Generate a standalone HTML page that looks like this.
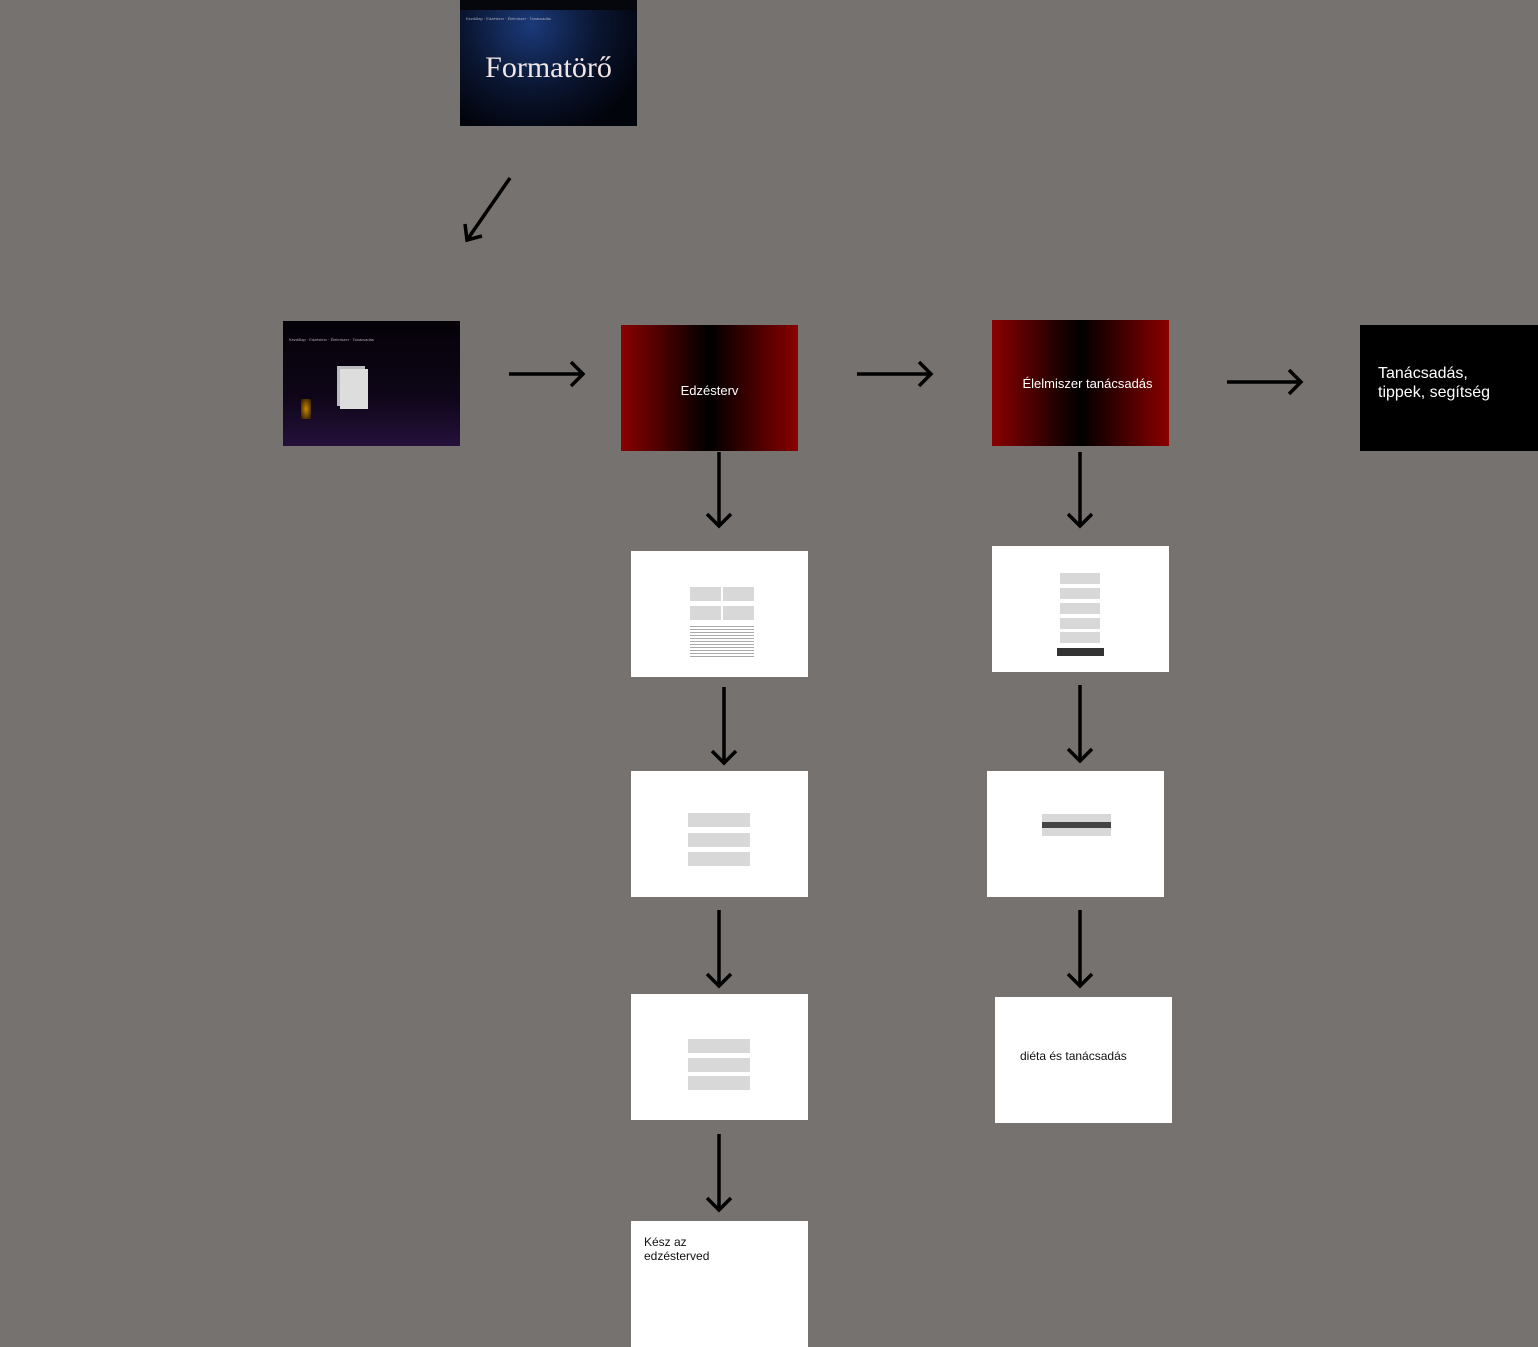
<!DOCTYPE html>
<html><head><meta charset="utf-8"><style>
body{margin:0;width:1538px;height:1347px;background:#767270;position:relative;overflow:hidden;font-family:"Liberation Sans",sans-serif}
.b{position:absolute}
.w{background:#fff}
.red{background:linear-gradient(90deg,#8a0000 0%,#1a0000 40%,#000 50%,#1a0000 60%,#8a0000 100%);color:#fff;font-size:13px;display:flex;align-items:center;justify-content:center}
.t{position:absolute;font-size:5px;color:#666}
.g{position:absolute;background:#d8d8d8}
</style></head><body>
<div class="b" style="left:460px;top:0;width:177px;height:126px;background:radial-gradient(ellipse at 40% 20%,#1b3a7a 0%,#0a1530 45%,#02040c 80%)">
<div style="position:absolute;left:0;top:0;width:177px;height:10px;background:#05070d"></div>
<div class="t" style="left:6px;top:16px;color:#aab;font-size:4px">Kezdőlap · Edzésterv · Élelmiszer · Tanácsadás</div>
<div style="position:absolute;left:0;width:177px;top:51px;text-align:center;font-family:'Liberation Serif',serif;font-size:30px;line-height:34px;color:#f0e6e6">Formatörő</div>
</div>
<div class="b" style="left:283px;top:321px;width:177px;height:125px;background:linear-gradient(180deg,#050208 0%,#0e0618 60%,#24103a 100%)">
<div class="t" style="left:6px;top:16px;color:#aaa;font-size:4px">Kezdőlap · Edzésterv · Élelmiszer · Tanácsadás</div>
<div style="position:absolute;left:57px;top:48px;width:28px;height:40px;background:#ddd;box-shadow:-3px -3px 0 #bbb"></div>
<div style="position:absolute;left:18px;top:78px;width:10px;height:20px;background:radial-gradient(#c80,#210)"></div>
</div>
<div class="b red" style="left:621px;top:325px;width:177px;height:126px;padding-top:4px;box-sizing:border-box">Edzésterv</div>
<div class="b red" style="left:992px;top:320px;width:177px;height:126px;padding-left:14px;box-sizing:border-box">Élelmiszer tanácsadás</div>
<div class="b" style="left:1360px;top:325px;width:178px;height:126px;background:#000;color:#fff;font-size:16px;line-height:19px"><div style="position:absolute;left:18px;top:39px">Tanácsadás,<br>tippek, segítség</div></div>

<div class="b w" style="left:631px;top:551px;width:177px;height:126px">
<div class="g" style="left:59px;top:36px;width:31px;height:14px"></div><div class="g" style="left:92px;top:36px;width:31px;height:14px"></div>
<div class="g" style="left:59px;top:55px;width:31px;height:14px"></div><div class="g" style="left:92px;top:55px;width:31px;height:14px"></div>
<div style="position:absolute;left:59px;top:75px;width:64px;height:33px;background:repeating-linear-gradient(180deg,#aaa 0 1px,#fff 1px 3px)"></div>
</div>
<div class="b w" style="left:631px;top:771px;width:177px;height:126px">
<div class="g" style="left:57px;top:42px;width:62px;height:14px"></div><div class="g" style="left:57px;top:62px;width:62px;height:14px"></div><div class="g" style="left:57px;top:81px;width:62px;height:14px"></div>
</div>
<div class="b w" style="left:631px;top:994px;width:177px;height:126px">
<div class="g" style="left:57px;top:45px;width:62px;height:14px"></div><div class="g" style="left:57px;top:64px;width:62px;height:14px"></div><div class="g" style="left:57px;top:82px;width:62px;height:14px"></div>
</div>
<div class="b w" style="left:631px;top:1221px;width:177px;height:126px;font-size:12px;line-height:14px;color:#111"><div style="position:absolute;left:13px;top:14px">Kész az<br>edzésterved</div></div>

<div class="b w" style="left:992px;top:546px;width:177px;height:126px">
<div class="g" style="left:68px;top:27px;width:40px;height:11px"></div><div class="g" style="left:68px;top:42px;width:40px;height:11px"></div><div class="g" style="left:68px;top:57px;width:40px;height:11px"></div><div class="g" style="left:68px;top:72px;width:40px;height:11px"></div><div class="g" style="left:68px;top:86px;width:40px;height:11px"></div>
<div style="position:absolute;left:65px;top:102px;width:47px;height:8px;background:#333"></div>
</div>
<div class="b w" style="left:987px;top:771px;width:177px;height:126px">
<div class="g" style="left:55px;top:43px;width:69px;height:22px"></div><div style="position:absolute;left:55px;top:51px;width:69px;height:6px;background:#444"></div>
</div>
<div class="b w" style="left:995px;top:997px;width:177px;height:126px;font-size:12px;color:#111"><div style="position:absolute;left:25px;top:52px">diéta és tanácsadás</div></div>

<svg class="b" style="left:0;top:0" width="1538" height="1347" fill="none" stroke="#000" stroke-width="3.5">
<path d="M510 178L467 240M465 224L467 240L482 236"/>
<path d="M509 374H583M571 362L583 374L571 386"/>
<path d="M857 374H931M919 362L931 374L919 386"/>
<path d="M1227 382H1301M1289 370L1301 382L1289 394"/>
<g>
<path d="M719 452V526M707 514L719 526L731 514"/>
<path d="M724 687V763M712 751L724 763L736 751"/>
<path d="M719 910V986M707 974L719 986L731 974"/>
<path d="M719 1134V1210M707 1198L719 1210L731 1198"/>
<path d="M1080 452V526M1068 514L1080 526L1092 514"/>
<path d="M1080 685V761M1068 749L1080 761L1092 749"/>
<path d="M1080 910V986M1068 974L1080 986L1092 974"/>
</g>
</svg>
</body></html>
